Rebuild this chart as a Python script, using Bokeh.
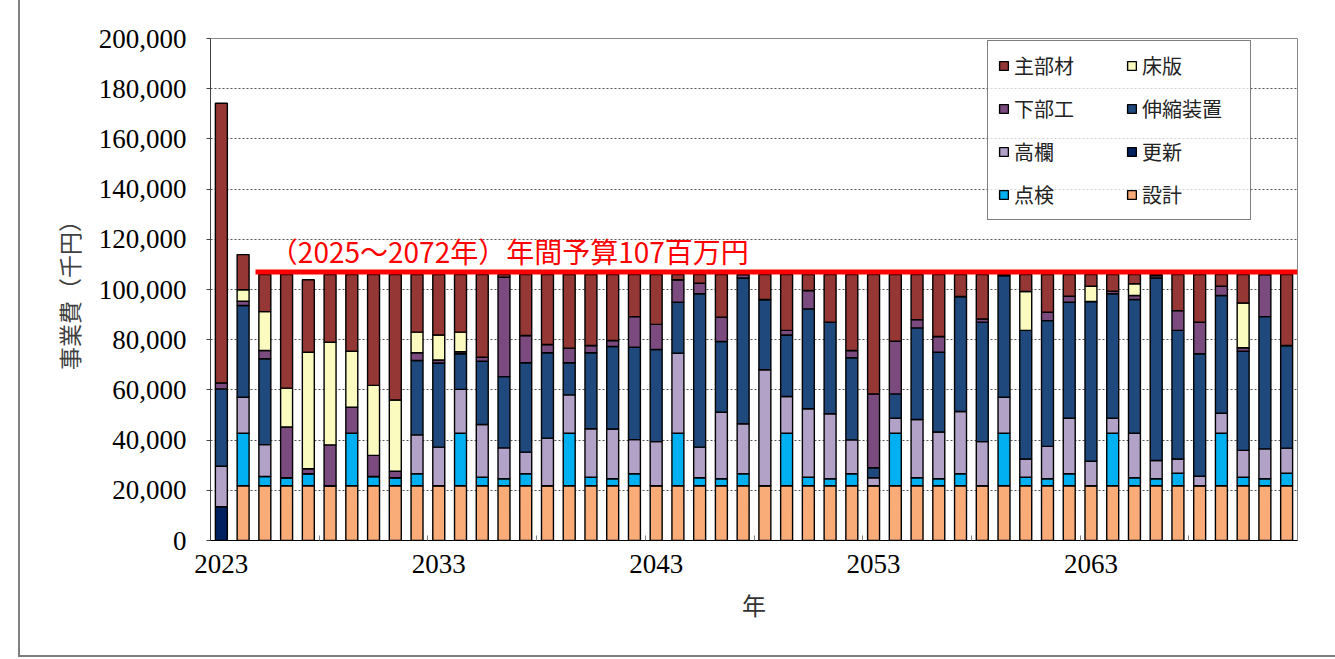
from bokeh.plotting import figure
from bokeh.models import (Range1d, FixedTicker, NumeralTickFormatter, Legend, LegendItem,
                          Label, ColumnDataSource, InlineStyleSheet)
from bokeh.embed import file_html
from bokeh.resources import INLINE

years = list(range(2023, 2073))

# values in 千円, stacked bottom -> top
koushin = [13500, 0, 0, 0, 0, 0, 0, 0, 0, 0,
           0, 0, 0, 0, 0, 0, 0, 0, 0, 0,
           0, 0, 0, 0, 0, 0, 0, 0, 0, 0,
           0, 0, 0, 0, 0, 0, 0, 0, 0, 0,
           0, 0, 0, 0, 0, 0, 0, 0, 0, 0]
sekkei = [0, 21800, 21800, 21800, 21800, 21800, 21800, 21800, 21800, 21800,
          21800, 21800, 21800, 21800, 21800, 21800, 21800, 21800, 21800, 21800,
          21800, 21800, 21800, 21800, 21800, 21800, 21800, 21800, 21800, 21800,
          21800, 21800, 21800, 21800, 21800, 21800, 21800, 21800, 21800, 21800,
          21800, 21800, 21800, 21800, 21800, 21800, 21800, 21800, 21800, 21800]
tenken = [0, 20900, 3700, 3200, 4800, 0, 20900, 3700, 3200, 4800,
          0, 20900, 3400, 2800, 4800, 0, 20900, 3400, 2800, 4800,
          0, 20900, 3200, 2800, 4800, 0, 20900, 3400, 2800, 4800,
          0, 20900, 3200, 2800, 4800, 0, 20900, 3400, 2800, 4800,
          0, 20900, 3200, 2800, 5000, 0, 20900, 3400, 2800, 5000]
kouran = [16100, 14400, 12700, 0, 0, 0, 0, 0, 0, 15500,
          15400, 17500, 21000, 12300, 8600, 19000, 15300, 19300, 19800, 13600,
          17600, 31900, 12200, 26500, 19900, 46200, 14700, 27300, 25900, 13500,
          3200, 6000, 23200, 18600, 24800, 17600, 14400, 7300, 12900, 22100,
          9800, 6000, 17700, 7300, 5700, 3800, 8000, 10700, 11900, 10000]
shinshuku = [30800, 36500, 34200, 0, 0, 0, 0, 0, 0, 29600,
             33500, 14200, 25200, 28400, 35600, 34000, 12800, 30300, 32900, 36800,
             36700, 20300, 61100, 28200, 58100, 28000, 24500, 39800, 36500, 32700,
             4000, 9700, 36500, 31800, 45800, 47600, 48500, 51200, 50100, 46200,
             63600, 49600, 53300, 72700, 51200, 48800, 46900, 39500, 52700, 40900]
kabukou = [2400, 1700, 3300, 20200, 2000, 16300, 10400, 8400, 2600, 3100,
           1200, 800, 1600, 39600, 10900, 3300, 5800, 2900, 2400, 12200,
           10000, 9000, 4200, 9700, 1400, 0, 1800, 7300, 0, 2900,
           29400, 21000, 3300, 6300, 0, 1300, 0, 0, 3400, 2400,
           0, 1000, 1600, 1000, 7900, 12600, 3700, 1400, 16800, 0]
shouban = [0, 4600, 15500, 15500, 46400, 40900, 22300, 27900, 28400, 8200,
           10000, 7800, 0, 0, 0, 0, 0, 0, 0, 0,
           0, 0, 0, 0, 0, 0, 0, 0, 0, 0,
           0, 0, 0, 0, 0, 0, 0, 15500, 0, 0,
           6100, 0, 4700, 0, 0, 0, 0, 17800, 0, 0]
shubuzai = [111400, 14000, 14800, 45300, 28900, 27000, 30600, 44200, 50000, 23000,
            24100, 23000, 33000, 1100, 24300, 27900, 29400, 28300, 26300, 16800,
            19900, 2100, 3500, 17000, 0, 10000, 22300, 6400, 19000, 30300,
            47600, 26600, 18000, 24700, 8800, 17700, 400, 6800, 15000, 8700,
            4700, 6700, 3700, 400, 14400, 19000, 4700, 11400, 0, 28300]

budget = 107000
budget_years = [2024.57, 2072.5]
budget_text = "（2025～2072年）年間予算107百万円"

series_keys = ["koushin", "sekkei", "tenken", "kouran", "shinshuku", "kabukou", "shouban", "shubuzai"]
series_names = ["更新", "設計", "点検", "高欄", "伸縮装置", "下部工", "床版", "主部材"]
series_colors = ["#002060", "#F9AC78", "#00B0F0", "#B3A2C7", "#1F497D", "#7B4A7E", "#FBFBC0", "#953735"]

source = ColumnDataSource(dict(year=years, koushin=koushin, sekkei=sekkei, tenken=tenken,
                               kouran=kouran, shinshuku=shinshuku, kabukou=kabukou,
                               shouban=shouban, shubuzai=shubuzai))

W, H = 1335, 659
p = figure(width=W, height=H, output_backend="svg", toolbar_location=None,
           x_range=Range1d(2022.5, 2072.5), y_range=Range1d(0, 200000),
           min_border_left=210, min_border_right=38, min_border_top=38, min_border_bottom=119)
p.background_fill_color = "white"
p.border_fill_color = "white"
p.outline_line_color = "#8a8a8a"
p.outline_line_width = 1

renderers = p.vbar_stack(series_keys, x="year", width=0.55, source=source,
                         fill_color=series_colors, line_color="black", line_width=1.4)

p.line(budget_years, [budget, budget], line_color="#FF0000", line_width=5)

p.add_layout(Label(x=2025.23, y=115200, text=budget_text, text_color="#FF0000",
                   text_font="Noto Sans CJK JP", text_font_size="28px",
                   text_baseline="alphabetic"))

# axes
xa = p.xaxis[0]
xa.ticker = FixedTicker(ticks=[2023, 2033, 2043, 2053, 2063],
                        minor_ticks=[2027.5, 2032.5, 2037.5, 2042.5, 2047.5, 2052.5,
                                     2057.5, 2062.5, 2067.5])
xa.major_tick_in = 0
xa.major_tick_out = 0
xa.minor_tick_in = 5
xa.minor_tick_out = 0
xa.minor_tick_line_color = "#808080"
xa.axis_line_color = "black"
xa.major_label_text_font = "Liberation Serif"
xa.major_label_text_font_size = "27px"
xa.major_label_text_color = "black"
xa.major_label_standoff = 14
xa.axis_label = "年"
xa.axis_label_text_font = "Noto Sans CJK JP"
xa.axis_label_text_font_style = "normal"
xa.axis_label_text_font_size = "24px"
xa.axis_label_text_color = "#333333"
xa.axis_label_standoff = 11

ya = p.yaxis[0]
ya.ticker = FixedTicker(ticks=list(range(0, 200001, 20000)))
ya.formatter = NumeralTickFormatter(format="0,0")
ya.major_tick_in = 0
ya.major_tick_out = 4
ya.minor_tick_in = 0
ya.minor_tick_out = 0
ya.axis_line_color = "#404040"
ya.major_tick_line_color = "#404040"
ya.major_label_text_font = "Liberation Serif"
ya.major_label_text_font_size = "27px"
ya.major_label_text_color = "black"
ya.major_label_standoff = 20
ya.axis_label = "事業費（千円）"
ya.axis_label_text_font = "Noto Sans CJK JP"
ya.axis_label_text_font_style = "normal"
ya.axis_label_text_font_size = "23px"
ya.axis_label_text_color = "#404040"
ya.axis_label_standoff = 10

p.xgrid.grid_line_color = None
p.ygrid.grid_line_color = "#555555"
p.ygrid.grid_line_dash = "2 2"
p.ygrid.grid_line_width = 1

# legend (row-major: 主部材 床版 / 下部工 伸縮装置 / 高欄 更新 / 点検 設計)
order = ["主部材", "床版", "下部工", "伸縮装置", "高欄", "更新", "点検", "設計"]
items = [LegendItem(label=n, renderers=[renderers[series_names.index(n)]]) for n in order]
legend = Legend(items=items, location=(777, 320), orientation="horizontal", ncols=2,
                label_text_font="Noto Sans CJK JP", label_text_font_size="20px",
                label_text_color="#222222", label_height=20, label_width=98,
                glyph_width=11, glyph_height=11, label_standoff=5, spacing=14,
                padding=10, margin=0, border_line_color="black", border_line_width=1,
                background_fill_color="white", background_fill_alpha=0.75)
p.add_layout(legend, "center")

# outer chart-area border (left and bottom edges visible in the reference)
p.stylesheets = [InlineStyleSheet(css=(
    ":host::after { content: ''; position: absolute; left: 18px; top: 0px; right: 0px;"
    " bottom: 2px; border-left: 2px solid #7f7f7f; border-bottom: 2px solid #7f7f7f;"
    " pointer-events: none; }"))]

open("out.html", "w").write(file_html(p, INLINE))
